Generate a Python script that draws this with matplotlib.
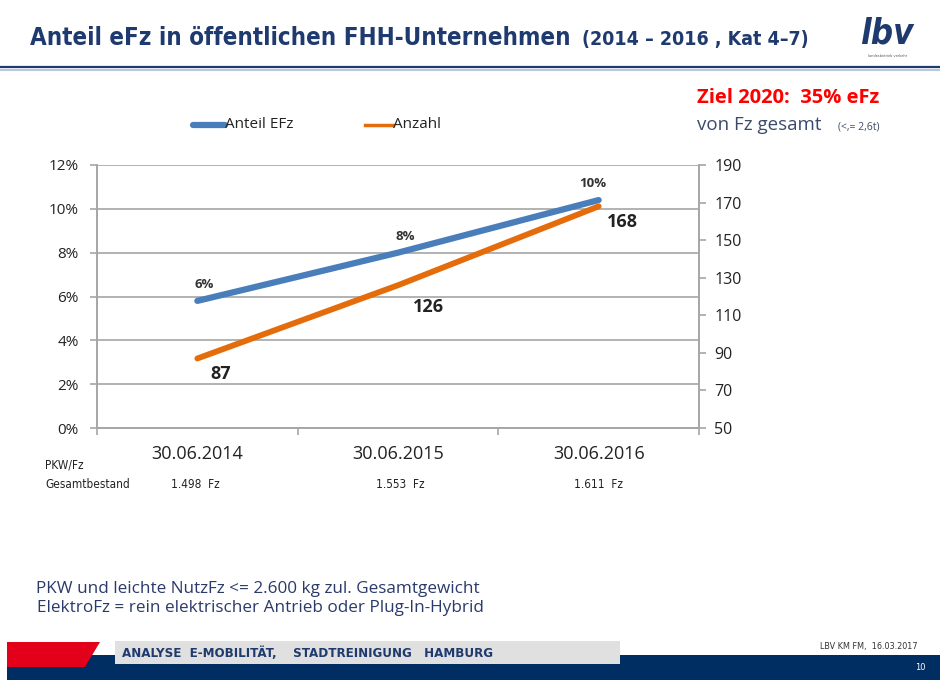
import matplotlib
matplotlib.use("Agg")
import matplotlib.pyplot as plt
from matplotlib import font_manager
from matplotlib.patches import Polygon
from matplotlib.ticker import FixedLocator

# values
dates = ["30.06.2014", "30.06.2015", "30.06.2016"]
anteil_efz = [5.8, 8.0, 10.4]        # percent
anzahl = [87, 126, 168]
bestand = ["1.498  Fz", "1.553  Fz", "1.611  Fz"]
left_ticks = [0, 2, 4, 6, 8, 10, 12]
right_ticks = [50, 70, 90, 110, 130, 150, 170, 190]

BLUE = "#4a7ebb"
ORANGE = "#e46c0a"
NAVY = "#1f3a6e"
GRID = "#a6a6a6"


def pick(*names):
    have = {f.name for f in font_manager.fontManager.ttflist}
    found = [n for n in names if n in have]
    return found + ["DejaVu Sans"]


def bold_ok(name):
    return any(f.name == name and f.weight in (700, "bold")
               for f in font_manager.fontManager.ttflist)


BODY = pick("Open Sans", "Lato", "Noto Sans")
BOLD = [n for n in BODY if bold_ok(n)] or ["DejaVu Sans"]
NARROW = ["DejaVu Sans"]

W, H = 940, 680
fig = plt.figure(figsize=(W / 100, H / 100), dpi=100)


def px(x, y):
    return x / W, 1 - y / H


# header
t1 = fig.text(*px(30, 38), "Anteil eFz in öffentlichen FHH-Unternehmen",
              family=NARROW, fontsize=17.3, fontweight="bold", fontstretch="condensed",
              color=NAVY, va="center")
renderer = fig.canvas.get_renderer()
end_x = t1.get_window_extent(renderer).x1
fig.text(end_x / W + 11 / W, 1 - 40 / H, "(2014 – 2016 , Kat 4–7)",
         family=NARROW, fontsize=14, fontweight="bold", fontstretch="condensed",
         color=NAVY, va="center")
fig.text(*px(860, 34), "lbv", family=["DejaVu Sans"], fontsize=25,
         fontweight="bold", style="italic", fontstretch="condensed",
         color=NAVY, va="center")
fig.text(*px(888, 56), "landesbetrieb verkehr", fontsize=2.5, color="#555555",
         ha="center", va="center")
fig.add_artist(plt.Line2D([0, 1], [1 - 67 / H] * 2, color=NAVY, lw=1.6))
fig.add_artist(plt.Line2D([0, 1], [1 - 70 / H] * 2, color="#b8c7e0", lw=1.5))

# target note
fig.text(*px(697, 98), "Ziel 2020:  35% eFz", family=BOLD, fontsize=14.5,
         fontweight="bold", color="#ff0000", va="center")
fig.text(*px(697, 125), "von Fz gesamt", family=BODY, fontsize=13.5,
         color="#3b4a6b", va="center")
fig.text(*px(838, 127), "(<,= 2,6t)", family=BODY, fontsize=7.5,
         color="#3b4a6b", va="center")

# chart
ax = fig.add_axes([97 / W, 1 - 428 / H, 602 / W, 263 / H])
ax2 = ax.twinx()
x = list(range(len(dates)))

ax.plot(x, anteil_efz, color=BLUE, lw=4.5, solid_capstyle="round", zorder=3)
ax2.plot(x, anzahl, color=ORANGE, lw=4.2, solid_capstyle="round", zorder=3)

ax.set_xlim(-0.5, len(dates) - 0.5)
ax.set_ylim(0, 12)
ax2.set_ylim(50, 190)

ax.set_yticks(left_ticks)
ax.set_yticklabels([f"{t}%" for t in left_ticks], family=BODY, fontsize=11,
                   color="#222222")
ax2.set_yticks(right_ticks)
ax2.set_yticklabels([str(t) for t in right_ticks], family=BODY, fontsize=11.5,
                    color="#222222")
ax.set_xticks(x)
ax.set_xticklabels(dates, family=BODY, fontsize=13, color="#222222")
ax.xaxis.set_minor_locator(FixedLocator([i - 0.5 for i in range(len(dates) + 1)]))
ax.tick_params(axis="x", which="major", length=0, pad=12)
ax.tick_params(axis="x", which="minor", length=5, color=GRID, width=1.2)
ax.tick_params(axis="y", length=5, color=GRID, width=1.2, pad=8)
ax2.tick_params(axis="y", length=5, color=GRID, width=1.2, pad=6)

ax.grid(axis="y", color=GRID, lw=1.2)
ax.set_axisbelow(True)
for a in (ax, ax2):
    a.spines["top"].set_visible(False)
    for s in ("left", "right", "bottom"):
        a.spines[s].set_color(GRID)
        a.spines[s].set_linewidth(1.2)

for xi, v in zip(x, anteil_efz):
    dx = -4 if xi == len(x) - 1 else 5
    ax.annotate(f"{v:.0f}%", (xi, v), xytext=(dx, 12), textcoords="offset points",
                ha="center", va="center", family=BOLD, fontsize=9.5,
                fontweight="bold", color="#333333")
for xi, v in zip(x, anzahl):
    off = (22, -16) if xi == 1 else (17, -11)
    ax2.annotate(str(v), (xi, v), xytext=off, textcoords="offset points",
                 ha="center", va="center", family=BOLD, fontsize=13,
                 fontweight="bold", color="#222222")

# legend
leg_y = 1 - 125 / H
fig.add_artist(plt.Line2D([193 / W, 225 / W], [leg_y] * 2, color=BLUE, lw=4.5,
                          solid_capstyle="round"))
fig.text(225 / W, leg_y, "Anteil EFz", family=BODY, fontsize=11,
         color="#222222", va="center")
fig.add_artist(plt.Line2D([365 / W, 393 / W], [leg_y] * 2, color=ORANGE, lw=2.5))
fig.text(393 / W, leg_y, "Anzahl", family=BODY, fontsize=11,
         color="#222222", va="center")

# fleet totals under the axis
fig.text(*px(45, 465), "PKW/Fz", family=NARROW, fontstretch="condensed",
         fontsize=8.5, color="#222222", va="center")
fig.text(*px(45, 485), "Gesamtbestand", family=NARROW, fontstretch="condensed",
         fontsize=8.5, color="#222222", va="center")
for cx, label in zip([195, 400, 598], bestand):
    fig.text(*px(cx, 485), label, family=NARROW, fontstretch="condensed",
             fontsize=8.5, color="#222222", ha="center", va="center")

# footnotes
fig.text(*px(258, 589), "PKW und leichte NutzFz <= 2.600 kg zul. Gesamtgewicht",
         family=BODY, fontsize=12.3, color="#2a3a6a", ha="center", va="center")
fig.text(*px(260, 608), "ElektroFz = rein elektrischer Antrieb oder Plug-In-Hybrid",
         family=BODY, fontsize=12.3, color="#2a3a6a", ha="center", va="center")


# footer band
def fig_poly(pts, **kw):
    fig.add_artist(Polygon([px(a, b) for a, b in pts], closed=True,
                           transform=fig.transFigure, **kw))


fig_poly([(7, 655), (940, 655), (940, 680), (7, 680)], color="#002d62", lw=0)
fig_poly([(7, 642), (100, 642), (85, 667), (7, 667)], color="#e2001a", lw=0)
fig_poly([(115, 641), (620, 641), (620, 664), (115, 664)], color="#e0e0e0", lw=0)
fig.text(*px(122, 653), "ANALYSE  E-MOBILITÄT,    STADTREINIGUNG   HAMBURG",
         family=NARROW, fontsize=9.5, fontweight="bold", fontstretch="condensed",
         color="#1f3a6e", va="center")
fig.text(*px(918, 647), "LBV KM FM,  16.03.2017", family=NARROW, fontsize=6.5,
         fontstretch="condensed", color="#333333", ha="right", va="center")
fig.text(*px(926, 668), "10", family=NARROW, fontsize=6, color="white",
         ha="right", va="center")

fig.savefig("out.png", dpi=100)
